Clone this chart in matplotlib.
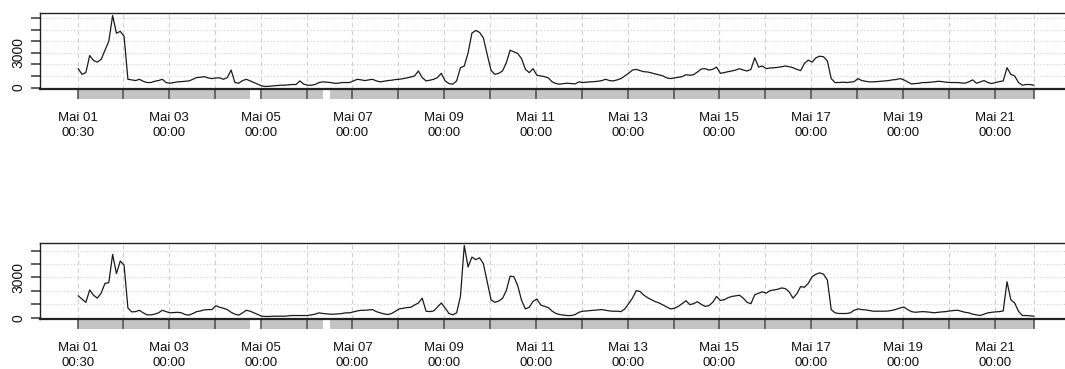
import numpy as np
import pandas as pd
import matplotlib
matplotlib.use('Agg')
import matplotlib.pyplot as plt
import matplotlib.dates as mdates
import matplotlib.transforms as mtransforms
from matplotlib.patches import Rectangle

plt.rcParams['font.family'] = ['Liberation Sans', 'DejaVu Sans']

# observations every 2 hours starting Mai 01 00:30, nan = no observation
start = pd.Timestamp('2015-05-01 00:30')
step_hours = 2
month_name = 'Mai'
nan = np.nan

top_days = [
    [1630, 1140, 1290, 2770, 2340, 2200, 2430, 3230, 4000, 6230, 4700, 4860],
    [4430, 710, 660, 600, 710, 540, 430, 430, 540, 600, 710, 430],
    [370, 430, 490, 510, 540, 570, 710, 860, 890, 940, 830, 770],
    [830, 830, 710, 860, 1510, 430, 370, 600, 710, 570, nan, nan],
    [140, 90, 110, 140, 170, 200, 200, 230, 260, 260, 570, 290],
    [200, 200, 260, 430, 490, nan, 430, 370, 370, 430, 430, 430],
    [570, 710, 660, 600, 660, 710, 570, 490, 540, 600, 630, 690],
    [710, 770, 830, 910, 1000, 1430, 860, 570, 630, 710, 860, 1230],
    [570, 340, 290, 570, 1710, 1860, 3000, 4710, 4940, 4770, 4290, 2860],
    [1490, 1140, 1230, 1430, 2140, 3230, 3090, 2940, 2490, 1570, 1290, 1630],
    [1060, 1000, 940, 830, 490, 340, 290, 340, 370, 340, 310, 490],
    [430, 460, 490, 510, 540, 600, 710, 600, 570, 660, 770, 1000],
    [1230, 1510, 1570, 1460, 1370, 1340, 1260, 1170, 1090, 1000, 830, 770],
    [830, 890, 940, 1110, 1060, 1110, 1340, 1600, 1630, 1510, 1570, 1770],
    [1230, 1290, 1370, 1430, 1510, 1630, 1510, 1430, 1570, 2570, 1770, 1860],
    [1630, 1690, 1710, 1740, 1800, 1860, 1800, 1710, 1570, 1460, 2090, 2370],
    [2200, 2570, 2710, 2660, 2290, 770, 430, 430, 460, 430, 460, 510],
    [770, 600, 540, 490, 490, 510, 540, 570, 600, 660, 690, 770],
    [660, 490, 310, 340, 370, 430, 430, 460, 490, 540, 510, 460],
    [430, 430, 430, 400, 370, 490, 660, 370, 490, 600, 430, 340],
    [430, 510, 570, 1710, 1140, 1000, 430, 200, 260, 260, 200],
]

bottom_days = [
    [1630, 1390, 1150, 2070, 1680, 1460, 1830, 2560, 2610, 4710, 3290, 4220],
    [3900, 730, 440, 460, 560, 370, 220, 220, 270, 370, 560, 460],
    [370, 390, 410, 370, 240, 200, 320, 460, 510, 590, 610, 610],
    [900, 780, 710, 610, 410, 270, 200, 370, 560, 490, nan, nan],
    [120, 100, 100, 120, 120, 120, 120, 150, 170, 170, 170, 170],
    [170, 220, 270, 370, 320, nan, 270, 270, 290, 320, 370, 370],
    [440, 510, 560, 560, 590, 610, 460, 370, 290, 240, 320, 490],
    [660, 710, 760, 780, 950, 1100, 1460, 490, 460, 510, 800, 1100],
    [730, 320, 220, 370, 1590, 5370, 3780, 4510, 4320, 4460, 4020, 2680],
    [1340, 1150, 1240, 1440, 2020, 3100, 3050, 2370, 1290, 660, 780, 1220],
    [1400, 950, 850, 760, 490, 320, 240, 200, 170, 170, 240, 410],
    [490, 510, 540, 560, 590, 610, 560, 510, 490, 490, 460, 660],
    [1050, 1460, 2020, 1950, 1680, 1490, 1340, 1200, 1100, 950, 800, 660],
    [710, 850, 1050, 1270, 980, 1050, 1200, 1000, 850, 900, 1150, 1590],
    [1290, 1340, 1490, 1590, 1630, 1680, 1460, 1150, 1050, 1710, 1830, 1930],
    [1830, 2020, 2070, 2120, 2220, 2170, 1930, 1460, 1780, 2320, 2270, 2560],
    [3050, 3240, 3340, 3240, 2800, 610, 370, 320, 320, 320, 370, 560],
    [660, 610, 590, 540, 490, 490, 490, 490, 510, 560, 630, 730],
    [800, 610, 460, 410, 440, 460, 440, 410, 370, 410, 440, 460],
    [510, 540, 560, 490, 410, 370, 270, 220, 170, 270, 370, 410],
    [440, 460, 510, 2680, 1340, 1100, 490, 170, 170, 150, 120],
]

y_labelled = [0, 3000]


def to_series(days):
    vals = np.array([v for day in days for v in day], dtype=float)
    idx = start + pd.to_timedelta(np.arange(len(vals)) * step_hours, unit='h')
    keep = ~np.isnan(vals)
    return pd.Series(vals[keep], index=idx[keep])


def draw_panel(ax, s):
    x = mdates.date2num(s.index.to_pydatetime())
    y = s.values
    ax.plot(x, y, color='#1a1a1a', lw=0.9, zorder=3)

    # R style 4% range extension
    ext = 0.04 * (x.max() - x.min())
    ax.set_xlim(x.min() - ext, x.max() + ext)
    yext = 0.04 * (y.max() - y.min())
    ax.set_ylim(y.min() - yext, y.max() + yext)

    # x ticks: first obs, every midnight, last obs
    first, last = s.index[0], s.index[-1]
    midnights = pd.date_range(first.normalize() + pd.Timedelta(days=1),
                              last.normalize(), freq='D')
    tick_times = [first] + list(midnights) + [last]
    labels = []
    for i, t in enumerate(tick_times):
        if i == 0 or (i < len(tick_times) - 1 and t.day % 2 == 1):
            labels.append('%s %02d\n%s' % (month_name, t.day, t.strftime('%H:%M')))
        else:
            labels.append('')
    ax.set_xticks(mdates.date2num([t.to_pydatetime() for t in tick_times]))
    ax.set_xticklabels(labels, fontsize=9.5, linespacing=1.25)

    yt = np.arange(0, y.max() + yext, 1000)
    ax.set_yticks(yt)
    ax.set_yticklabels([('%d' % v if v in y_labelled else '') for v in yt], fontsize=10)

    ax.tick_params(axis='x', length=7.2, width=1.2, color='#555555', pad=9.5,
                   labelcolor='#111111')
    ax.tick_params(axis='y', length=6.5, width=1.1, color='#333333', pad=4,
                   labelcolor='#111111', labelrotation=90)
    for lab in ax.get_yticklabels():
        lab.set_va('center')

    ax.grid(axis='x', color='#cfcfcf', lw=0.8, linestyle=(0, (4, 3)))
    ax.grid(axis='y', color='#cfcfcf', lw=0.8, linestyle=(0, (1, 2)))
    ax.set_axisbelow(True)

    for sp in ax.spines.values():
        sp.set_color('#222222')
        sp.set_linewidth(1.0)
    ax.spines['bottom'].set_linewidth(1.6)

    # observation band below the axis, broken where data is missing
    trans = mtransforms.blended_transform_factory(ax.transData, ax.transAxes)
    band_h = 10.0 / (ax.get_position().height * fig.get_figheight() * fig.dpi)
    gaps = np.where(np.diff(x) > step_hours / 24.0 * 1.01)[0]
    seg_start = np.r_[0, gaps + 1]
    seg_end = np.r_[gaps, len(x) - 1]
    for a, b in zip(seg_start, seg_end):
        ax.add_patch(Rectangle((x[a], -band_h), x[b] - x[a], band_h,
                               transform=trans, facecolor='#c4c4c4',
                               edgecolor='none', clip_on=False, zorder=0.5))


fig = plt.figure(figsize=(10.65, 3.69), dpi=100)
W, H = 1065.0, 369.0
ax1 = fig.add_axes([40 / W, (H - 89.3) / H, 1032 / W, 76.6 / H])
ax2 = fig.add_axes([40 / W, (H - 319.3) / H, 1032 / W, 76.6 / H])

draw_panel(ax1, to_series(top_days))
draw_panel(ax2, to_series(bottom_days))

fig.savefig('out.png', dpi=100)
